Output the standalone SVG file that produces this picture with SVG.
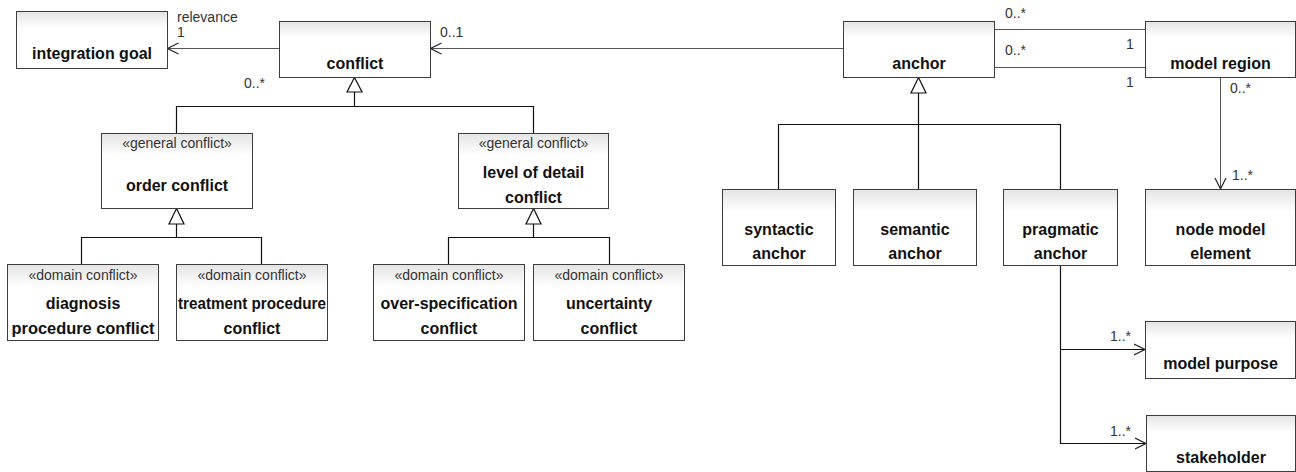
<svg xmlns="http://www.w3.org/2000/svg" width="1296" height="472" viewBox="0 0 1296 472">
<style>
.box{fill:url(#bg);stroke:#3c3c3c;stroke-width:1}
.nm{font-family:"Liberation Sans",Arial,sans-serif;font-weight:bold;font-size:16px;fill:#111;text-anchor:middle}
.st{font-family:"Liberation Sans",Arial,sans-serif;font-size:14px;fill:#333;text-anchor:middle}
.lb{font-family:"Liberation Sans",Arial,sans-serif;font-size:14px;fill:#333}
.as{fill:none;stroke:#555;stroke-width:1}
.gn{fill:none;stroke:#111;stroke-width:1.2}
.tri{fill:#fff;stroke:#111;stroke-width:1.2}
</style>
<defs>
<linearGradient id="bg" x1="0" y1="0" x2="0" y2="1">
<stop offset="0" stop-color="#e4e4e4"/>
<stop offset="0.3" stop-color="#ffffff"/>
<stop offset="1" stop-color="#ffffff"/>
</linearGradient>
<marker id="open" markerUnits="userSpaceOnUse" markerWidth="14" markerHeight="14" refX="11" refY="6" orient="auto" viewBox="0 0 14 12">
<path d="M0,0.5 L11,6 L0,11.5" fill="none" stroke="#222" stroke-width="1.2"/>
</marker>
</defs>

<g id="connectors">
<line class="as" x1="279" y1="48.5" x2="167.5" y2="48.5" marker-end="url(#open)"/>
<line class="as" x1="843" y1="48.5" x2="430.5" y2="48.5" marker-end="url(#open)"/>
<line class="as" x1="994" y1="29.5" x2="1145" y2="29.5"/>
<line class="as" x1="994" y1="67.5" x2="1145" y2="67.5"/>
<line class="as" x1="1220.5" y1="77" x2="1220.5" y2="189" marker-end="url(#open)"/>
<polyline class="gn" points="1060.5,265 1060.5,443.5 1146,443.5" marker-end="url(#open)"/>
<line class="gn" x1="1060.5" y1="349.5" x2="1145" y2="349.5" marker-end="url(#open)"/>

<polyline class="gn" points="176.5,133 176.5,106.5 533.5,106.5 533.5,133"/>
<line class="gn" x1="354.5" y1="92" x2="354.5" y2="106.5"/>
<polygon class="tri" points="354.5,77.5 347,92 362,92"/>

<polyline class="gn" points="81.5,264 81.5,237.5 261.5,237.5 261.5,264"/>
<line class="gn" x1="176.5" y1="224" x2="176.5" y2="237.5"/>
<polygon class="tri" points="176.5,208.5 169,224 184,224"/>

<polyline class="gn" points="448.5,264 448.5,237.5 609.5,237.5 609.5,264"/>
<line class="gn" x1="533.5" y1="224" x2="533.5" y2="237.5"/>
<polygon class="tri" points="533.5,208.5 526,224 541,224"/>

<polyline class="gn" points="778.5,189 778.5,124.5 1060.5,124.5 1060.5,189"/>
<line class="gn" x1="918.5" y1="93" x2="918.5" y2="189"/>
<polygon class="tri" points="918.5,77.5 911,93 926,93"/>

<text class="lb" x="177" y="22">relevance</text>
<text class="lb" x="177" y="37">1</text>
<text class="lb" x="244" y="88">0..*</text>
<text class="lb" x="440" y="37">0..1</text>
<text class="lb" x="1005" y="18">0..*</text>
<text class="lb" x="1005" y="55">0..*</text>
<text class="lb" x="1126" y="49">1</text>
<text class="lb" x="1126" y="87">1</text>
<text class="lb" x="1230" y="93">0..*</text>
<text class="lb" x="1232" y="180">1..*</text>
<text class="lb" x="1110" y="341">1..*</text>
<text class="lb" x="1110" y="436">1..*</text>
</g>

<g id="integration-goal"><rect class="box" x="16.5" y="11.5" width="151" height="57"/><text class="nm" x="92" y="59">integration goal</text></g>
<g id="conflict"><rect class="box" x="279.5" y="21.5" width="151" height="56"/><text class="nm" x="355" y="69">conflict</text></g>
<g id="anchor"><rect class="box" x="843.5" y="21.5" width="151" height="56"/><text class="nm" x="919" y="69">anchor</text></g>
<g id="model-region"><rect class="box" x="1145.5" y="21.5" width="150" height="56"/><text class="nm" x="1220.5" y="69">model region</text></g>

<g id="order-conflict"><rect class="box" x="101.5" y="133.5" width="151" height="75"/><text class="st" x="177" y="148">«general conflict»</text><text class="nm" x="177" y="191">order conflict</text></g>
<g id="level-of-detail-conflict"><rect class="box" x="458.5" y="133.5" width="150" height="75"/><text class="st" x="533.5" y="148">«general conflict»</text><text class="nm" x="533.5" y="178">level of detail</text><text class="nm" x="533.5" y="203">conflict</text></g>

<g id="diagnosis-procedure-conflict"><rect class="box" x="7.5" y="264.5" width="151" height="76"/><text class="st" x="83" y="280">«domain conflict»</text><text class="nm" x="83" y="309">diagnosis</text><text class="nm" x="83" y="334" textLength="143" lengthAdjust="spacingAndGlyphs">procedure conflict</text></g>
<g id="treatment-procedure-conflict"><rect class="box" x="176.5" y="264.5" width="151" height="76"/><text class="st" x="252" y="280">«domain conflict»</text><text class="nm" x="252" y="309" textLength="148" lengthAdjust="spacingAndGlyphs">treatment procedure</text><text class="nm" x="252" y="334">conflict</text></g>
<g id="over-specification-conflict"><rect class="box" x="373.5" y="264.5" width="151" height="76"/><text class="st" x="449" y="280">«domain conflict»</text><text class="nm" x="449" y="309">over-specification</text><text class="nm" x="449" y="334">conflict</text></g>
<g id="uncertainty-conflict"><rect class="box" x="533.5" y="264.5" width="151" height="76"/><text class="st" x="609" y="280">«domain conflict»</text><text class="nm" x="609" y="309">uncertainty</text><text class="nm" x="609" y="334">conflict</text></g>

<g id="syntactic-anchor"><rect class="box" x="722.5" y="189.5" width="113" height="76"/><text class="nm" x="779" y="235">syntactic</text><text class="nm" x="779" y="259">anchor</text></g>
<g id="semantic-anchor"><rect class="box" x="853.5" y="189.5" width="123" height="76"/><text class="nm" x="915" y="235">semantic</text><text class="nm" x="915" y="259">anchor</text></g>
<g id="pragmatic-anchor"><rect class="box" x="1003.5" y="189.5" width="114" height="76"/><text class="nm" x="1060.5" y="235">pragmatic</text><text class="nm" x="1060.5" y="259">anchor</text></g>
<g id="node-model-element"><rect class="box" x="1145.5" y="189.5" width="150" height="76"/><text class="nm" x="1220.5" y="235">node model</text><text class="nm" x="1220.5" y="259">element</text></g>

<g id="model-purpose"><rect class="box" x="1145.5" y="321.5" width="150" height="57"/><text class="nm" x="1220.5" y="369">model purpose</text></g>
<g id="stakeholder"><rect class="box" x="1146.5" y="415.5" width="149" height="56"/><text class="nm" x="1221" y="463">stakeholder</text></g>
</svg>
